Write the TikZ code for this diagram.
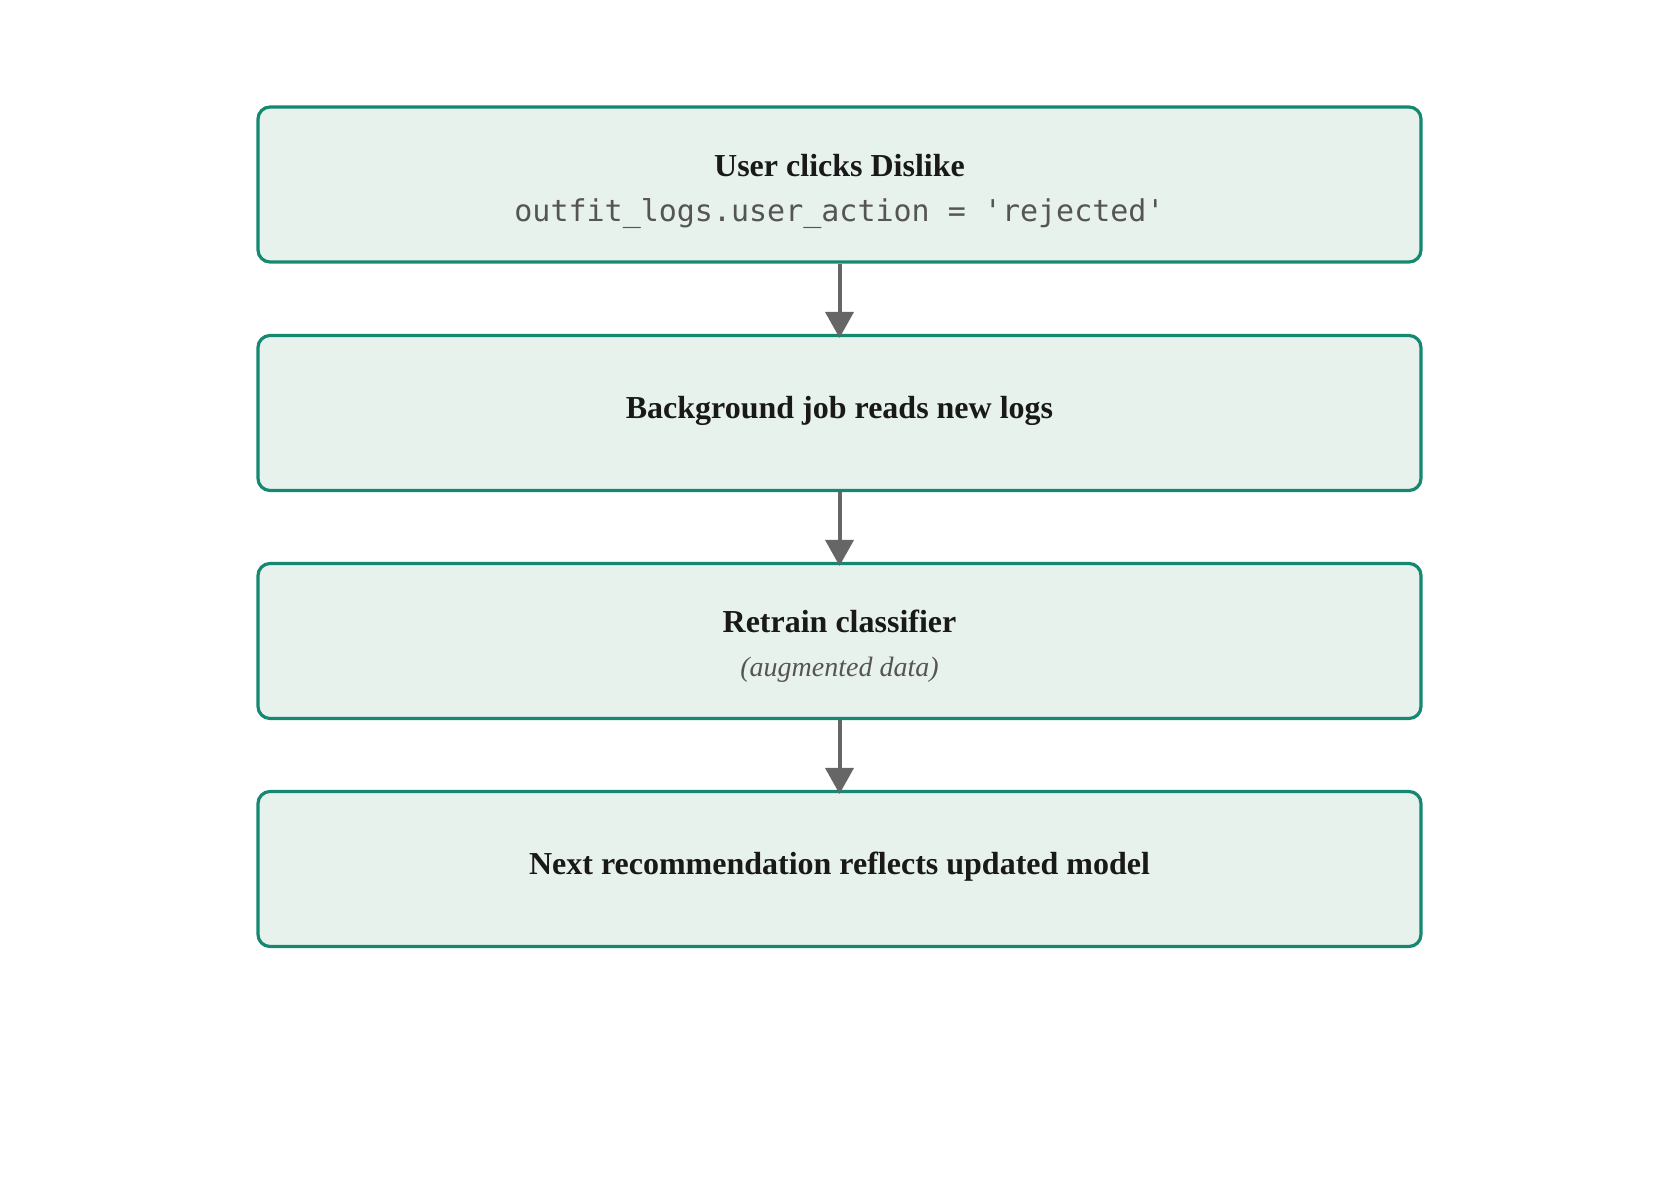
\documentclass[tikz,border=0pt]{standalone}
\usepackage{fontspec}
\setmainfont{Liberation Serif}
\setmonofont{DejaVu Sans Mono}
\usetikzlibrary{arrows.meta}
\definecolor{bfill}{HTML}{E8F2EC}
\definecolor{bline}{HTML}{168872}
\definecolor{arr}{HTML}{666666}
\definecolor{sub}{HTML}{555555}
\begin{document}
\begin{tikzpicture}[x=1pt,y=-1pt,
  box/.style={draw=bline,fill=bfill,line width=3.2pt,rounded corners=12pt,minimum width=1163pt,minimum height=155pt,inner sep=0pt},
  ttl/.style={font=\fontsize{32}{36}\selectfont\bfseries,text=black!90},
  arrow/.style={draw=arr,line width=4pt,-{Triangle[length=26pt,width=28pt]}}]
\useasboundingbox (0,0) rectangle (1679,1180);
\node[box] (b1) at (839.5,184.5) {};
\node[box] (b2) at (839.5,413) {};
\node[box] (b3) at (839.5,641) {};
\node[box] (b4) at (839.5,869) {};
\node[ttl] (t1) at (839.5,166) {User clicks Dislike};
\node[font=\fontsize{30}{34}\ttfamily,text=sub] (s1) at (839.5,214) {outfit\_logs.user\_action = 'rejected'};
\node[ttl] (t2) at (839.5,411) {Background job reads new logs};
\node[ttl] (t3) at (839.5,621) {Retrain classifier};
\node[font=\fontsize{28}{32}\selectfont\itshape,text=sub] (s3) at (839.5,670) {(augmented data)};
\node[ttl] (t4) at (839.5,867) {Next recommendation reflects updated model};
\draw[arrow] (b1.south) -- ([yshift=-4pt]b2.north);
\draw[arrow] (b2.south) -- ([yshift=-4pt]b3.north);
\draw[arrow] (b3.south) -- ([yshift=-4pt]b4.north);
\end{tikzpicture}
\end{document}
